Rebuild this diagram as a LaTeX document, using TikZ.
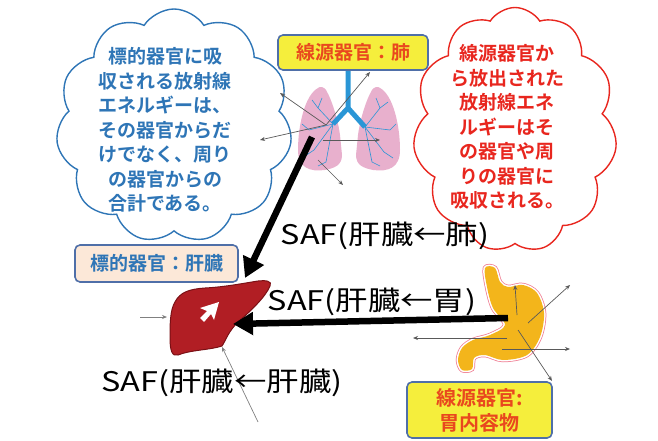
\documentclass[tikz,border=0pt]{standalone}
\usepackage{fontspec}
\setmainfont{Noto Sans CJK JP}[BoldFont={Noto Sans CJK JP Bold}]
\newfontfamily\saffont{Noto Sans CJK JP}[FakeStretch=1.2]
\usetikzlibrary{positioning,arrows.meta,shapes.symbols}

\definecolor{cloudblue}{HTML}{2E75B6}
\definecolor{cloudred}{HTML}{E8261E}
\definecolor{boxedge}{HTML}{4F6FA8}
\definecolor{boxyellow}{HTML}{F5EE3C}
\definecolor{boxpeach}{HTML}{FCE8D8}
\definecolor{srctext}{HTML}{E9481E}
\definecolor{liverred}{HTML}{B11E24}
\definecolor{liveredge}{HTML}{7A1015}
\definecolor{stomachyel}{HTML}{F3B51B}
\definecolor{lungpink}{HTML}{E8B0CD}
\definecolor{bronchus}{HTML}{2A96D6}

\begin{document}
\begin{tikzpicture}[x=1pt,y=-1pt,
	talk/.style={cloud,cloud puffs=11,cloud puff arc=115,cloud ignores aspect,line width=1.4pt,inner sep=0pt},
	talktext/.style={font=\bfseries\fontsize{19}{24.5}\selectfont,align=center,inner sep=0pt},
	organbox/.style={draw=boxedge,line width=1.6pt,rounded corners=5pt,inner sep=0pt,align=center,font=\bfseries\fontsize{19}{25}\selectfont},
	saflabel/.style={font=\saffont\fontsize{27}{30}\selectfont,inner sep=0pt},
	saf/.style={line width=6.5pt,-{Triangle[length=20pt,width=22pt]}},
	beam/.style={draw=black!65,line width=0.7pt,-{Stealth[length=5pt,width=4pt]}}]
\useasboundingbox (0,0) rectangle (658,441);

% speech clouds
\node[talk,draw=cloudblue,minimum width=236pt,minimum height=234pt] (cb) at (174,126) {};
\node[talk,draw=cloudred,minimum width=204pt,minimum height=245pt] (cr) at (515,130) {};
\node[talktext,text=cloudblue] (tb) at (165,130) {標的器官に吸\\収される放射線\\エネルギーは、\\その器官からだ\\けでなく、周り\\の器官からの\\合計である。};
\node[talktext,text=cloudred] (tr) at (507,127) {線源器官か\\ら放出された\\放射線エネ\\ルギーはそ\\の器官や周\\りの器官に\\吸収される。};

% lungs
\foreach \s in {1,-1}
	\fill[lungpink,xshift=(1-\s)*349pt,xscale=\s] (318,88) .. controls (305,95) and (298,125) .. (298,150) .. controls (298,168) and (310,172) .. (325,170) .. controls (335,168) and (342,165) .. (342,155) -- (340,135) .. controls (338,120) and (332,100) .. (326,90) .. controls (324,87) and (320,86) .. (318,88) -- cycle;
\draw[bronchus,line width=5pt] (348,70) -- (348,108) -- (333,124);
\draw[bronchus,line width=5pt] (348,108) -- (365,127);
\foreach \x/\y/\u/\v in {333/124/318/108,333/124/309/130,333/124/314/150,333/124/326/162,318/108/312/100,318/108/322/98,309/130/302/124,314/150/305/156,326/162/318/166,
	365/127/380/108,365/127/390/130,365/127/384/152,365/127/372/162,380/108/388/102,380/108/376/98,390/130/396/124,384/152/393/158,372/162/380/166}
	\draw[bronchus,line width=0.6pt] (\x,\y) -- (\u,\v);

\coordinate (lung) at (326,125);
\coordinate (l1) at (370,72);
\coordinate (l2) at (280,93);
\coordinate (l3) at (260,140);
\coordinate (l4s) at (323,140);
\coordinate (l4) at (380,140);
\coordinate (l5s) at (318,160);
\coordinate (l5) at (343,185);
\foreach \x/\y in {lung/l1,lung/l2,lung/l3,l4s/l4,l5s/l5}
	\draw[beam] (\x) -- (\y);

\node[organbox,fill=boxyellow,text=srctext,minimum width=150pt,minimum height=35pt] (lungbox) at (353,52.5) {線源器官：肺};

% liver
\filldraw[fill=liverred,draw=liveredge,line width=1pt] (175,302) .. controls (180,292) and (190,289) .. (205,288) .. controls (225,287) and (245,283) .. (258,281) .. controls (265,280) and (273,281) .. (270,286) .. controls (266,296) and (252,310) .. (238,322) .. controls (228,332) and (226,340) .. (222,346) .. controls (210,350) and (190,350) .. (178,355) .. controls (172,357) and (170,350) .. (170,338) .. controls (170,325) and (170,310) .. (175,302) -- cycle;
\fill[white] (219,302) -- (214,320) -- (211,314) -- (204,322) -- (200,318) -- (207,311) -- (200,308) -- cycle;
\coordinate (liver) at (222,320);
\coordinate (lv1s) at (140,317);
\coordinate (lv1) at (167,317);
\coordinate (lv2s) at (258,422);
\coordinate (lv2) at (222,347);
\foreach \x/\y in {lv1s/lv1,lv2s/lv2}
	\draw[beam,draw=black!50] (\x) -- (\y);

\node[organbox,fill=boxpeach,text=cloudblue,minimum width=163pt,minimum height=37pt] (liverbox) at (156.5,263.5) {標的器官：肝臓};

% stomach
\def\stomach{plot[smooth cycle,tension=0.55] coordinates {(485,268) (487,287) (493,308) (505,325) (490,335) (473,340) (462,348) (458,360) (462,370) (472,369) (474,358) (485,355) (503,360) (527,355) (540,337) (544,313) (537,293) (523,285) (508,287) (500,282) (495,268)}}
\draw[lungpink!70!red,line width=4.5pt] \stomach;
\draw[white,line width=3pt] \stomach;
\fill[stomachyel] \stomach;

\coordinate (st1s) at (517,315);
\coordinate (st1) at (515,285);
\coordinate (st2s) at (528,323);
\coordinate (st2) at (570,285);
\coordinate (st3s) at (502,349);
\coordinate (st3) at (570,349);
\coordinate (st4s) at (518,330);
\coordinate (st4) at (552,381);
\coordinate (st5s) at (507,338);
\coordinate (st5) at (413,338);
\foreach \x/\y in {st1s/st1,st2s/st2,st3s/st3,st4s/st4,st5s/st5}
	\draw[beam] (\x) -- (\y);

\node[organbox,fill=boxyellow,text=srctext,minimum width=145pt,minimum height=56pt,font=\bfseries\fontsize{20}{25}\selectfont] (stomachbox) at (479.5,410) {線源器官:\\胃内容物};

% absorbed fractions
\coordinate (lungsrc) at (312,137);
\coordinate (livertop) at (245,278);
\coordinate (stomachsrc) at (508,318);
\coordinate (liverside) at (233,324);
\draw[saf] (lungsrc) -- (livertop);
\draw[saf] (stomachsrc) -- (liverside);

\node[saflabel] (saf1) at (385,236) {SAF(肝臓←肺)};
\node[saflabel] (saf2) at (372,302) {SAF(肝臓←胃)};
\node[saflabel] (saf3) at (222,383) {SAF(肝臓←肝臓)};

\end{tikzpicture}
\end{document}
